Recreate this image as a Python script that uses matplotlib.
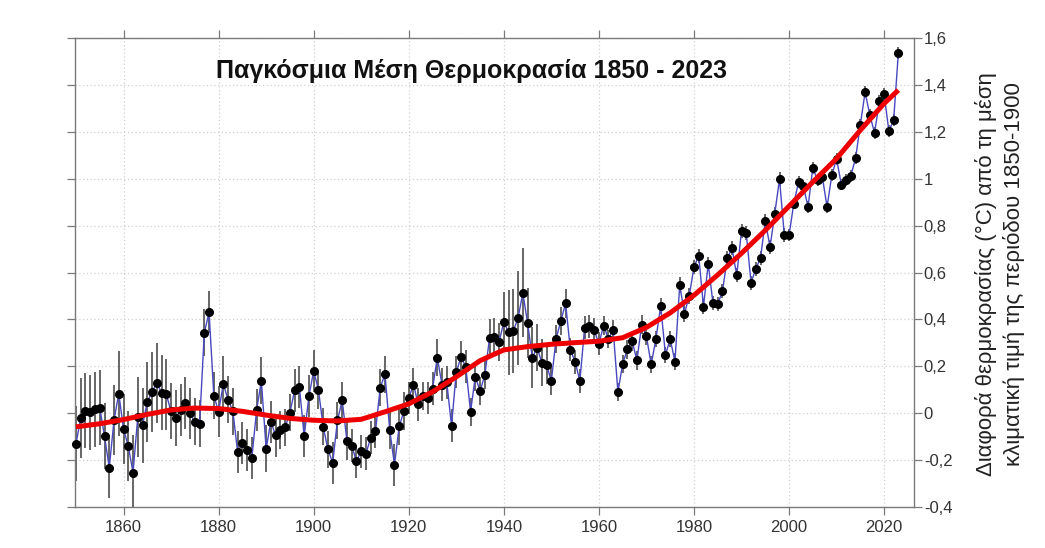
import matplotlib
matplotlib.use("Agg")
import matplotlib.pyplot as plt
from matplotlib.ticker import FuncFormatter, MultipleLocator

plt.rcParams["font.family"] = ["Liberation Sans", "DejaVu Sans"]

# Annual global mean temperature anomaly (°C, vs 1850-1900), 1850-2023
years = list(range(1850, 2024))
anomaly = [
    -0.13, -0.02, 0.01, 0.005, 0.017, 0.023, -0.097, -0.233, -0.03, 0.084,      # 1850s
    -0.068, -0.14, -0.253, -0.016, -0.051, 0.048, 0.09, 0.13, 0.087, 0.08,      # 1860s
    0.008, -0.02, 0.013, 0.044, -0.001, -0.037, -0.044, 0.344, 0.43, 0.075,     # 1870s
    0.007, 0.124, 0.058, 0.009, -0.165, -0.128, -0.158, -0.19, 0.014, 0.138,    # 1880s
    -0.151, -0.036, -0.095, -0.072, -0.06, 0.003, 0.097, 0.112, -0.098, 0.072,  # 1890s
    0.18, 0.1, -0.057, -0.154, -0.212, -0.031, 0.055, -0.118, -0.139, -0.205,   # 1900s
    -0.162, -0.173, -0.104, -0.077, 0.109, 0.166, -0.071, -0.22, -0.055, 0.009, # 1910s
    0.065, 0.122, 0.038, 0.074, 0.065, 0.104, 0.237, 0.122, 0.132, -0.054,      # 1920s
    0.176, 0.239, 0.198, 0.006, 0.155, 0.095, 0.162, 0.321, 0.325, 0.304,       # 1930s
    0.389, 0.345, 0.351, 0.406, 0.513, 0.385, 0.237, 0.28, 0.215, 0.205,        # 1940s
    0.138, 0.318, 0.394, 0.468, 0.271, 0.219, 0.138, 0.365, 0.37, 0.354,        # 1950s
    0.297, 0.374, 0.316, 0.357, 0.09, 0.21, 0.272, 0.306, 0.226, 0.377,         # 1960s
    0.328, 0.208, 0.317, 0.458, 0.249, 0.316, 0.22, 0.547, 0.425, 0.5,          # 1970s
    0.623, 0.671, 0.455, 0.637, 0.469, 0.466, 0.52, 0.66, 0.704, 0.588,         # 1980s
    0.778, 0.768, 0.557, 0.615, 0.662, 0.82, 0.709, 0.851, 0.999, 0.759,        # 1990s
    0.759, 0.894, 0.986, 0.969, 0.88, 1.046, 0.994, 1.008, 0.88, 1.015,         # 2000s
    1.085, 0.975, 0.994, 1.013, 1.087, 1.231, 1.369, 1.271, 1.195, 1.332,       # 2010s
    1.36, 1.204, 1.249, 1.537,                                                  # 2020s
]

# 95% uncertainty half-widths
uncertainty = [
    0.16, 0.17, 0.16, 0.16, 0.16, 0.16, 0.14, 0.13, 0.15, 0.18,
    0.15, 0.15, 0.16, 0.17, 0.16, 0.17, 0.17, 0.17, 0.16, 0.15,
    0.12, 0.12, 0.11, 0.11, 0.11, 0.10, 0.10, 0.10, 0.09, 0.10,
    0.11, 0.12, 0.10, 0.10, 0.09, 0.09, 0.09, 0.09, 0.09, 0.10,
    0.10, 0.09, 0.09, 0.08, 0.08, 0.08, 0.09, 0.09, 0.09, 0.09,
    0.09, 0.08, 0.08, 0.08, 0.09, 0.08, 0.08, 0.08, 0.07, 0.07,
    0.07, 0.07, 0.07, 0.07, 0.08, 0.08, 0.08, 0.09, 0.08, 0.08,
    0.07, 0.07, 0.07, 0.06, 0.07, 0.07, 0.08, 0.07, 0.07, 0.07,
    0.07, 0.07, 0.07, 0.06, 0.06, 0.06, 0.06, 0.08, 0.08, 0.08,
    0.13, 0.18, 0.18, 0.20, 0.19, 0.15, 0.13, 0.10, 0.10, 0.08,
    0.06, 0.06, 0.06, 0.06, 0.05, 0.05, 0.05, 0.05, 0.05, 0.05,
    0.05, 0.04, 0.04, 0.04, 0.04, 0.04, 0.04, 0.04, 0.04, 0.04,
    0.035, 0.035, 0.035, 0.035, 0.035, 0.035, 0.035, 0.035, 0.035, 0.035,
    0.03, 0.03, 0.03, 0.03, 0.03, 0.03, 0.03, 0.03, 0.03, 0.03,
    0.03, 0.03, 0.03, 0.03, 0.03, 0.03, 0.03, 0.03, 0.03, 0.03,
    0.025, 0.025, 0.025, 0.025, 0.025, 0.025, 0.025, 0.025, 0.025, 0.025,
    0.025, 0.025, 0.025, 0.025, 0.025, 0.025, 0.025, 0.025, 0.025, 0.025,
    0.025, 0.025, 0.025, 0.025,
]

# Long-term smoothed trend
smooth_years = [1850, 1855, 1860, 1865, 1870, 1875, 1880, 1885, 1890, 1895,
                1900, 1905, 1910, 1915, 1920, 1925, 1930, 1935, 1940, 1945,
                1950, 1955, 1960, 1965, 1970, 1975, 1980, 1985, 1990, 1995,
                2000, 2005, 2010, 2015, 2020, 2023]
smooth_vals = [-0.058, -0.045, -0.027, -0.005, 0.014, 0.022, 0.02, 0.008, -0.008, -0.022,
               -0.03, -0.033, -0.026, 0.006, 0.04, 0.091, 0.155, 0.224, 0.27, 0.284,
               0.294, 0.301, 0.307, 0.322, 0.366, 0.428, 0.503, 0.59, 0.682, 0.78,
               0.883, 0.986, 1.086, 1.207, 1.321, 1.378]

xticks = [1860, 1880, 1900, 1920, 1940, 1960, 1980, 2000, 2020]

fig = plt.figure(figsize=(10.45, 5.48), dpi=100)
ax = fig.add_axes([0.0718, 0.0748, 0.8029, 0.8558])

ax.errorbar(years, anomaly, yerr=uncertainty, fmt="none", ecolor="#5a5a5a",
            elinewidth=1.3, capsize=0, zorder=2)
ax.plot(years, anomaly, color="#4848c0", lw=1.0, zorder=3)
ax.plot(years, anomaly, "o", color="black", ms=5.5, zorder=4, clip_on=False)
ax.plot(smooth_years, smooth_vals, color="#ee0000", lw=3.6, zorder=5,
        solid_capstyle="butt")

ax.set_xlim(1849.8, 2026.3)
ax.set_ylim(-0.4, 1.6)
ax.set_xticks(xticks)
ax.yaxis.set_major_locator(MultipleLocator(0.2))
ax.yaxis.set_major_formatter(FuncFormatter(lambda v, p: ("%g" % round(v, 2)).replace(".", ",")))

ax.grid(True, color="#d0d0d0", linestyle=(0, (1, 2)), linewidth=0.9)
ax.set_axisbelow(True)

for s in ax.spines.values():
    s.set_color("#7a7a7a")
    s.set_linewidth(1.0)
ax.tick_params(axis="both", which="major", direction="out", length=6, width=0.9,
               color="#7a7a7a", labelcolor="#333333", labelsize=12,
               top=True, bottom=True, left=True, right=True,
               labelleft=False, labelright=True, labelbottom=True, labeltop=False)
ax.tick_params(axis="y", pad=1)

ax.text(0.472, 0.93, "Παγκόσμια Μέση Θερμοκρασία 1850 - 2023", transform=ax.transAxes,
        ha="center", va="center", fontsize=18, fontweight="bold", color="#111111")

fig.text(0.957, 0.5, "Διαφορά θερμοκρασίας (°C) από τη μέση\nκλιματική τιμή της περιόδου 1850-1900",
         rotation=90, ha="center", va="center", multialignment="center",
         fontsize=16, color="#222222", linespacing=1.35)

fig.savefig("out.png", dpi=100, facecolor="white")
